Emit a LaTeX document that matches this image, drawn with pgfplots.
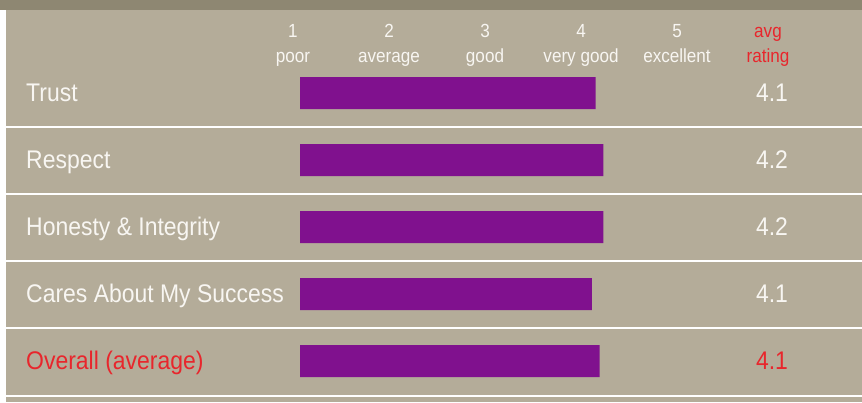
\documentclass[border=0pt]{standalone}
\usepackage{fontspec}
\setmainfont{Liberation Sans}[FakeStretch=0.9]
\usepackage{pgfplots}
\pgfplotsset{compat=1.18}
\usepackage{pgfplotstable}
\definecolor{bg}{HTML}{B4AC99}
\definecolor{band}{HTML}{8E8772}
\definecolor{barc}{HTML}{80118E}
\definecolor{redc}{HTML}{E8262C}
\definecolor{txt}{HTML}{F8F6F2}
% y = row centre (px from top), rating = bar value
\pgfplotstableread{
y rating
93 4.08
160 4.16
227 4.16
294 4.04
361 4.12
}\datatable
\begin{document}
\begin{tikzpicture}
\begin{axis}[at={(0,0)}, anchor=south west,
  width=862pt, height=402pt, scale only axis,
  xmin=-3.125, xmax=5.854, ymin=0, ymax=402, y dir=reverse,
  axis lines=none, xtick=\empty, ytick=\empty, clip=false]
  % background
  \fill[bg] (axis cs:-3.125,0) rectangle (axis cs:5.854,402);
  \fill[white] (axis cs:-3.125,9) rectangle (axis cs:-3.0625,402);
  \fill[band] (axis cs:-3.125,0) rectangle (axis cs:5.854,9.5);
  \foreach \yy in {126.8,193.8,260.8,327.8,395.8}{
    \edef\temp{\noexpand\fill[white] (axis cs:-3.0625,\yy-1.3) rectangle (axis cs:5.854,\yy+1.3);}
    \temp
  }
  \addplot[xbar, fill=barc, draw=none, bar width=32pt] table[x expr=\thisrow{rating}-1, y=y] \datatable;
  % header
  \begin{scope}[every node/.style={anchor=base, text=txt, font=\fontsize{19}{22}\selectfont}]
    \node at (axis cs:-0.073,37.7) {1};
    \node at (axis cs:0.927,37.7) {2};
    \node at (axis cs:1.927,37.7) {3};
    \node at (axis cs:2.927,37.7) {4};
    \node at (axis cs:3.927,37.7) {5};
    \node at (axis cs:-0.073,62.3) {poor};
    \node at (axis cs:0.927,62.3) {average};
    \node at (axis cs:1.927,62.3) {good};
    \node at (axis cs:2.927,62.3) {very good};
    \node at (axis cs:3.927,62.3) {excellent};
    \node[text=redc] at (axis cs:4.875,37.7) {avg};
    \node[text=redc] at (axis cs:4.875,62.3) {rating};
  \end{scope}
  % row labels
  \begin{scope}[every node/.style={anchor=base west, inner sep=0pt, text=txt, font=\fontsize{25.5}{30}\selectfont}]
    \node at (axis cs:-2.854,101) {Trust};
    \node at (axis cs:-2.854,168) {Respect};
    \node at (axis cs:-2.854,235) {Honesty \& Integrity};
    \node at (axis cs:-2.854,302) {Cares About My Success};
    \node[text=redc] at (axis cs:-2.854,369.5) {Overall (average)};
  \end{scope}
  % values
  \begin{scope}[every node/.style={anchor=base, text=txt, font=\fontsize{25.5}{30}\selectfont}]
    \node at (axis cs:4.917,101) {4.1};
    \node at (axis cs:4.917,168) {4.2};
    \node at (axis cs:4.917,235) {4.2};
    \node at (axis cs:4.917,302.5) {4.1};
    \node[text=redc] at (axis cs:4.917,369.5) {4.1};
  \end{scope}
\end{axis}
\end{tikzpicture}
\end{document}
